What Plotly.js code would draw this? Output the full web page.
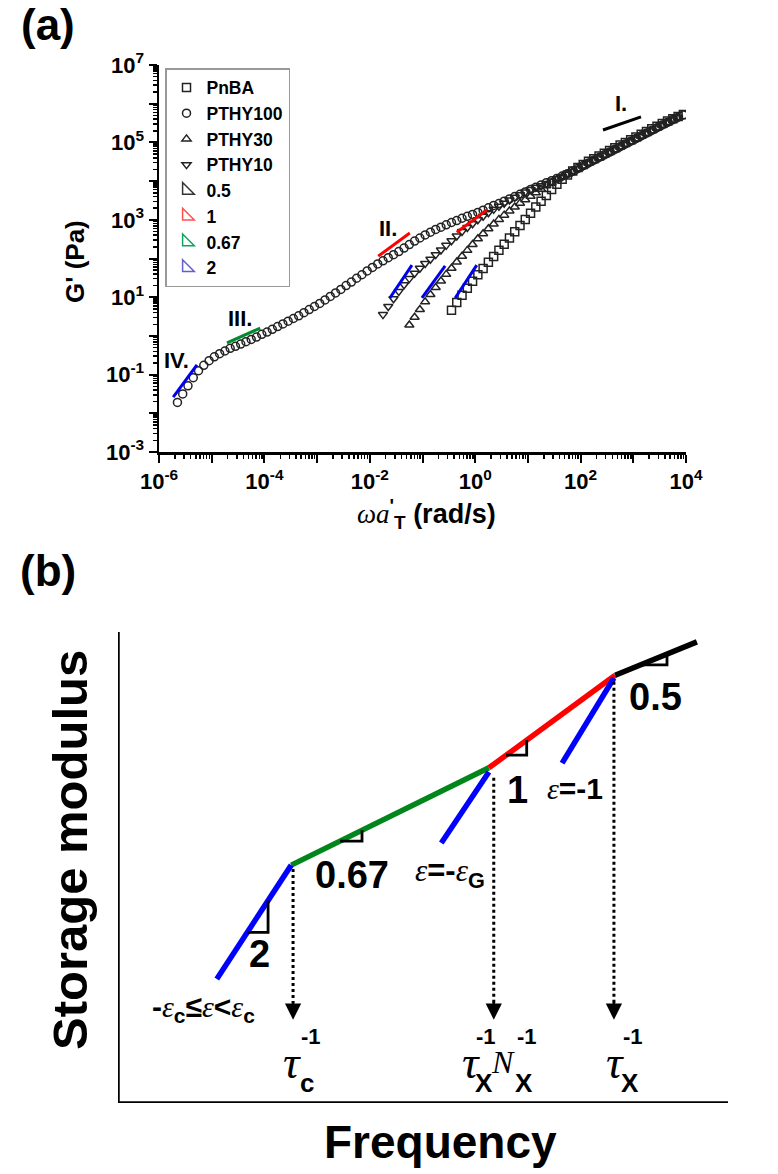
<!DOCTYPE html>
<html><head><meta charset="utf-8">
<script src="https://cdn.plot.ly/plotly-3.0.1.min.js"></script>
<style>html,body{margin:0;padding:0;background:#fff}</style>
</head><body><div id="chart" style="width:778px;height:1174px"></div>
<script>
// ---------- Panel (a): master curves, log10(omega a'_T) and log10(G') ----------
const pthy100_logW = [-5.65,-5.55,-5.45,-5.35,-5.25,-5.15,-5.05,-4.95,-4.85,-4.75,
 -4.65,-4.55,-4.45,-4.35,-4.25,-4.15,-4.05,-3.95,-3.85,-3.75,
 -3.65,-3.55,-3.45,-3.35,-3.25,-3.15,-3.05,-2.95,-2.85,-2.75,
 -2.65,-2.55,-2.45,-2.35,-2.25,-2.15,-2.05,-1.95,-1.85,-1.75,
 -1.65,-1.55,-1.45,-1.35,-1.25,-1.15,-1.05,-0.95,-0.85,-0.75,
 -0.65,-0.55,-0.45,-0.35,-0.25,-0.15,-0.05,0.05,0.15,0.25,
 0.35,0.45,0.55,0.65,0.75,0.85,0.95,1.05,1.15,1.25,
 1.35,1.45,1.55,1.65,1.75,1.85,1.95,2.05,2.15,2.25,
 2.35,2.45,2.55,2.65,2.75,2.85,2.95,3.05,3.15,3.25,
 3.35,3.45,3.55,3.65,3.75,3.85,3.95];
const pthy100_logG = [-1.72,-1.50,-1.29,-1.08,-0.90,-0.76,-0.64,-0.54,-0.46,-0.39,
 -0.32,-0.27,-0.21,-0.15,-0.09,-0.03,0.04,0.10,0.17,0.24,
 0.31,0.38,0.45,0.52,0.60,0.68,0.76,0.84,0.93,1.02,
 1.11,1.20,1.30,1.39,1.49,1.58,1.68,1.77,1.86,1.94,
 2.02,2.10,2.18,2.27,2.36,2.45,2.53,2.61,2.68,2.75,
 2.81,2.87,2.93,2.98,3.04,3.09,3.14,3.19,3.25,3.31,
 3.37,3.42,3.48,3.54,3.60,3.66,3.72,3.78,3.84,3.90,
 3.96,4.01,4.07,4.13,4.19,4.26,4.33,4.40,4.47,4.54,
 4.61,4.68,4.75,4.82,4.89,4.96,5.03,5.10,5.17,5.24,
 5.31,5.38,5.45,5.52,5.59,5.65,5.71];

const pthy10_logW = [-1.75,-1.65,-1.55,-1.45,-1.35,-1.25,-1.15,-1.05,-0.95,-0.85,
 -0.75,-0.65,-0.55,-0.45,-0.35,-0.25,-0.15,-0.05,0.05,0.15,
 0.25,0.35,0.45,0.55,0.65,0.75,0.85,0.95,1.05,1.15,
 1.25,1.35,1.45,1.55,1.65,1.75,1.85,1.95,2.05,2.15,
 2.25,2.35,2.45,2.55,2.65,2.75,2.85,2.95,3.05,3.15,
 3.25,3.35,3.45,3.55,3.65,3.75,3.85];
const pthy10_logG = [0.55,0.76,0.96,1.15,1.32,1.48,1.62,1.75,1.87,1.98,
 2.10,2.22,2.34,2.46,2.58,2.70,2.80,2.90,3.00,3.09,
 3.18,3.27,3.35,3.43,3.51,3.58,3.65,3.72,3.78,3.84,
 3.88,3.94,4.00,4.06,4.12,4.18,4.25,4.32,4.39,4.46,
 4.53,4.60,4.67,4.74,4.81,4.88,4.95,5.02,5.09,5.16,
 5.23,5.30,5.37,5.44,5.51,5.58,5.64];

const pthy30_logW = [-1.25,-1.15,-1.05,-0.95,-0.85,-0.75,-0.65,-0.55,-0.45,-0.35,
 -0.25,-0.15,-0.05,0.05,0.15,0.25,0.35,0.45,0.55,0.65,
 0.75,0.85,0.95,1.05,1.15,1.25,1.35,1.45,1.55,1.65,
 1.75,1.85,1.95,2.05,2.15,2.25,2.35,2.45,2.55,2.65,
 2.75,2.85,2.95,3.05,3.15,3.25,3.35,3.45,3.55,3.65,
 3.75,3.85];
const pthy30_logG = [0.28,0.48,0.68,0.88,1.07,1.25,1.42,1.59,1.75,1.91,
 2.06,2.21,2.36,2.51,2.64,2.77,2.89,3.01,3.12,3.23,
 3.33,3.43,3.52,3.61,3.70,3.79,3.88,3.96,4.04,4.11,
 4.18,4.25,4.32,4.39,4.46,4.53,4.60,4.67,4.74,4.81,
 4.88,4.95,5.02,5.09,5.16,5.23,5.30,5.37,5.44,5.51,
 5.58,5.64];

const pnba_logW = [-0.45,-0.35,-0.25,-0.15,-0.05,0.05,0.15,0.25,0.35,0.45,
 0.55,0.65,0.75,0.85,0.95,1.05,1.15,1.25,1.35,1.45,
 1.55,1.65,1.75,1.85,1.95,2.05,2.15,2.25,2.35,2.45,
 2.55,2.65,2.75,2.85,2.95,3.05,3.15,3.25,3.35,3.45,
 3.55,3.65,3.75,3.85,3.95];
const pnba_logG = [0.66,0.86,1.05,1.23,1.41,1.58,1.74,1.90,2.05,2.21,
 2.37,2.53,2.69,2.85,3.01,3.17,3.33,3.48,3.63,3.78,
 3.92,4.05,4.16,4.26,4.35,4.43,4.51,4.58,4.65,4.72,
 4.79,4.86,4.93,5.00,5.07,5.14,5.21,5.28,5.35,5.42,
 5.49,5.55,5.61,5.67,5.72];

// slope guide segments in panel (a): [omega], [G']
const slopeI_w = [266, 1400],        slopeI_G = [2.09e5, 4.57e5];
const slopeII1_w = [0.01445, 0.0575], slopeII1_G = [115, 457];
const slopeII2_w = [0.447, 1.66],     slopeII2_G = [479, 1778];
const slopeIII_w = [1.95e-5, 8.32e-5], slopeIII_G = [0.661, 1.585];
const slopeIV_w = [1.86e-6, 5.25e-6], slopeIV_G = [0.0263, 0.178];
const slopeA_w = [0.024, 0.063],      slopeA_G = [9.55, 67.6];
const slopeB_w = [0.0977, 0.269],     slopeB_G = [9.55, 64.6];
const slopeC_w = [0.417, 1.07],       slopeC_G = [9.55, 67.6];

const seriesNames = ['PnBA', 'PTHY100', 'PTHY30', 'PTHY10'];
const slopeNames = ['0.5', '1', '0.67', '2'];

const xTickVals = [1e-6,1e-5,1e-4,1e-3,1e-2,1e-1,1e0,1e1,1e2,1e3,1e4];
const xTickText = ['10<sup>-6</sup>','','10<sup>-4</sup>','','10<sup>-2</sup>','','10<sup>0</sup>','','10<sup>2</sup>','','10<sup>4</sup>'];
const yTickVals = [1e-3,1e-2,1e-1,1e0,1e1,1e2,1e3,1e4,1e5,1e6,1e7];
const yTickText = ['10<sup>-3</sup>','','10<sup>-1</sup>','','10<sup>1</sup>','','10<sup>3</sup>','','10<sup>5</sup>','','10<sup>7</sup>'];

// ---------- Panel (b): schematic (arbitrary units) ----------
const b_blue1_x = [16.2, 28.4], b_blue1_y = [26.4, 50.6];
const b_green_x = [28.4, 60.8], b_green_y = [50.6, 71.3];
const b_red_x   = [60.8, 81.5], b_red_y   = [71.3, 91.0];
const b_black_x = [81.5, 94.9], b_black_y = [91.0, 98.1];
const b_blue2_x = [53.0, 60.8], b_blue2_y = [55.3, 70.4];
const b_blue3_x = [72.8, 81.3], b_blue3_y = [72.3, 90.4];
const tri_blue_x  = [21.2, 24.6, 24.6], tri_blue_y  = [36.3, 36.3, 43.1];
const tri_green_x = [36.4, 40.0, 40.0], tri_green_y = [55.7, 55.7, 58.0];
const tri_red_x   = [63.6, 67.0, 67.0], tri_red_y   = [74.0, 74.0, 77.2];
const tri_black_x = [85.6, 90.0, 90.0], tri_black_y = [93.2, 93.2, 95.5];
const drop_x   = [28.7, 61.6, 81.3];
const drop_top = [49.8, 69.2, 89.6];
const drop_end = 21.3, drop_tip = 17.7;

// ---------- build ----------
const W = 778, H = 1174;
const SANS = 'Liberation Sans, Arial, sans-serif';
const SERIF = 'Liberation Serif, Times New Roman, serif';
const pw = a => a.map(v => Math.pow(10, v));
const DK = '#222222';

const traces = [];
function dataTrace(name, lw, lg, sym) {
  return {x: pw(lw), y: pw(lg), name, legendgroup: name, mode: 'markers', type: 'scatter',
    xaxis: 'x', yaxis: 'y',
    marker: {symbol: sym, size: 8, color: DK, line: {color: DK, width: 1.5}}};
}
traces.push(dataTrace(seriesNames[0], pnba_logW, pnba_logG, 'square-open'));
traces.push(dataTrace(seriesNames[1], pthy100_logW, pthy100_logG, 'circle-open'));
traces.push(dataTrace(seriesNames[2], pthy30_logW, pthy30_logG, 'triangle-up-open'));
traces.push(dataTrace(seriesNames[3], pthy10_logW, pthy10_logG, 'triangle-down-open'));
const iconCols = ['#333333', '#ff5050', '#10a060', '#6060d0'];
slopeNames.forEach((n, i) => traces.push({x: [null], y: [null], name: n, legendgroup: 's' + n,
  mode: 'markers', type: 'scatter', xaxis: 'x', yaxis: 'y',
  marker: {symbol: 'triangle-sw-open', size: 13, color: iconCols[i], line: {color: iconCols[i], width: 1.5}}}));

function seg(xs, ys, color, width, ax, extra) {
  return Object.assign({x: xs, y: ys, mode: 'lines', type: 'scatter', showlegend: false, hoverinfo: 'skip',
    xaxis: ax === 2 ? 'x2' : 'x', yaxis: ax === 2 ? 'y2' : 'y', line: {color, width}}, extra || {});
}
traces.push(seg(slopeI_w, slopeI_G, '#000', 3));
traces.push(seg(slopeII1_w, slopeII1_G, '#ff0000', 3));
traces.push(seg(slopeII2_w, slopeII2_G, '#ff0000', 3));
traces.push(seg(slopeIII_w, slopeIII_G, '#008a2e', 3));
traces.push(seg(slopeIV_w, slopeIV_G, '#0000ee', 3));
traces.push(seg(slopeA_w, slopeA_G, '#0000ee', 3));
traces.push(seg(slopeB_w, slopeB_G, '#0000ee', 3));
traces.push(seg(slopeC_w, slopeC_G, '#0000ee', 3));

// panel b
traces.push(seg(b_green_x, b_green_y, '#00861a', 5.5, 2));
traces.push(seg(b_red_x, b_red_y, '#ff0000', 5.5, 2));
traces.push(seg(b_black_x, b_black_y, '#000000', 5.5, 2));
traces.push(seg(b_blue1_x, b_blue1_y, '#0000ff', 5.5, 2));
traces.push(seg(b_blue2_x, b_blue2_y, '#0000ff', 5.5, 2));
traces.push(seg(b_blue3_x, b_blue3_y, '#0000ff', 5.5, 2));
[[tri_blue_x, tri_blue_y], [tri_green_x, tri_green_y], [tri_red_x, tri_red_y], [tri_black_x, tri_black_y]]
  .forEach(t => traces.push(seg(t[0], t[1], '#000', 2.8, 2)));
drop_x.forEach((x, i) => traces.push(seg([x, x], [drop_top[i], drop_end], '#000', 3, 2, {line: {color: '#000', width: 3, dash: 'dot'}})));

function ann(text, x, y, size, opts) {
  const o = Object.assign({text, x: x / W, y: 1 - y / H, xref: 'paper', yref: 'paper', showarrow: false,
    xanchor: 'center', yanchor: 'middle'}, opts || {});
  o.font = Object.assign({family: SANS, size: size, color: '#000', weight: 700}, (opts && opts.font) || {});
  return o;
}
const eps = '<span style="font-family:Liberation Serif;font-weight:normal"><i>ε</i></span>';
const tau = '<span style="font-family:Liberation Serif"><i>τ</i></span>';
const annotations = [
  ann('(a)', 48, 25, 44),
  ann('(b)', 48, 570, 44),
  ann("G' (Pa)", 75, 262, 26, {textangle: -90}),
  ann('<span style="font-family:Liberation Serif;font-weight:normal"><i>ωa</i></span><sup>\'</sup><sub>T</sub> (rad/s)', 426, 514, 27),
  ann('I.', 621, 103, 22),
  ann('II.', 388, 229, 22),
  ann('III.', 240, 318, 22),
  ann('IV.', 176, 361, 22),
  ann('Storage modulus', 70, 850, 49, {textangle: -90}),
  ann('Frequency', 440, 1142, 46),
  ann('0.5', 655, 697, 38),
  ann('1', 517, 790, 38),
  ann(eps + '=-1', 575, 788, 30),
  ann('0.67', 352, 875, 38),
  ann(eps + '=-' + eps + '<sub>G</sub>', 450, 873, 31),
  ann('2', 259, 954, 38),
  ann('-' + eps + '<sub>c</sub>≤' + eps + '&lt;' + eps + '<sub>c</sub>', 203, 1008, 30),
  // tau labels
  ann(tau, 292, 1062, 46, {font: {weight: 400}}),
  ann('-1', 311, 1036, 22),
  ann('c', 307, 1083, 26),
  ann(tau, 471, 1062, 46, {font: {weight: 400}}),
  ann('-1', 486, 1036, 22),
  ann('X', 484, 1083, 26),
  ann('<i>N</i>', 503, 1062, 32, {font: {family: SERIF, weight: 400}}),
  ann('X', 524, 1083, 26),
  ann('-1', 527, 1036, 22),
  ann(tau, 615, 1062, 46, {font: {weight: 400}}),
  ann('X', 630, 1083, 26),
  ann('-1', 633, 1036, 22)
];
drop_x.forEach(x => annotations.push({x: x, y: drop_tip, xref: 'x2', yref: 'y2', text: ' ', showarrow: true,
  ax: 0, ay: -20, axref: 'pixel', ayref: 'pixel', arrowhead: 2, arrowsize: 1.3, arrowwidth: 2.5, arrowcolor: '#000',
  standoff: 0, startstandoff: 0, font: {size: 1}}));

const minorX = [], minorY = [];
for (let k = -6; k < 4; k++) for (let m = 2; m <= 9; m++) minorX.push(m * Math.pow(10, k));
for (let k = -3; k < 7; k++) for (let m = 2; m <= 9; m++) minorY.push(m * Math.pow(10, k));

const tickFont = {family: SANS, size: 22, color: '#000', weight: 700};
const layout = {
  width: W, height: H, margin: {l: 0, r: 0, t: 0, b: 0},
  paper_bgcolor: '#fff', plot_bgcolor: 'rgba(0,0,0,0)',
  showlegend: true,
  legend: {x: 165 / W, y: 1 - 68 / H, xanchor: 'left', yanchor: 'top', bgcolor: '#fff',
    bordercolor: '#999', borderwidth: 1.5, font: {family: SANS, size: 17.5, color: '#000', weight: 700},
    traceorder: 'grouped', tracegroupgap: 0, itemwidth: 30},
  xaxis: {domain: [159 / W, 686 / W], type: 'log', range: [-6, 4], anchor: 'y',
    showline: true, linecolor: '#000', linewidth: 2.5, ticks: 'outside', ticklen: 8, tickwidth: 2, tickcolor: '#000',
    tickmode: 'array', tickvals: xTickVals, ticktext: xTickText, tickfont: tickFont,
    showgrid: false, zeroline: false,
    minor: {tickmode: 'array', tickvals: minorX, ticks: 'outside', ticklen: 4, tickwidth: 1.5, tickcolor: '#000', showgrid: false}},
  yaxis: {domain: [1 - 452 / H, 1 - 65 / H], type: 'log', range: [-3, 7], anchor: 'x',
    showline: true, linecolor: '#000', linewidth: 2.5, ticks: 'outside', ticklen: 8, tickwidth: 2, tickcolor: '#000',
    tickmode: 'array', tickvals: yTickVals, ticktext: yTickText, tickfont: tickFont,
    showgrid: false, zeroline: false,
    minor: {tickmode: 'array', tickvals: minorY, ticks: 'outside', ticklen: 4, tickwidth: 1.5, tickcolor: '#000', showgrid: false}},
  xaxis2: {domain: [118 / W, 728 / W], range: [0, 100], anchor: 'y2', showline: false, showticklabels: false,
    ticks: '', showgrid: false, zeroline: false},
  yaxis2: {domain: [1 - 1103 / H, 1 - 600 / H], range: [0, 107], anchor: 'x2', showline: false, showticklabels: false,
    ticks: '', showgrid: false, zeroline: false},
  shapes: [
    {type: 'line', xref: 'x2', yref: 'y2', x0: 0, x1: 0, y0: 0, y1: 100.2, line: {color: '#000', width: 3.5}},
    {type: 'line', xref: 'x2', yref: 'y2', x0: 0, x1: 100, y0: 0, y1: 0, line: {color: '#000', width: 3.5}}
  ],
  annotations: annotations
};
Plotly.newPlot('chart', traces, layout, {displayModeBar: false, staticPlot: true});
</script></body></html>
